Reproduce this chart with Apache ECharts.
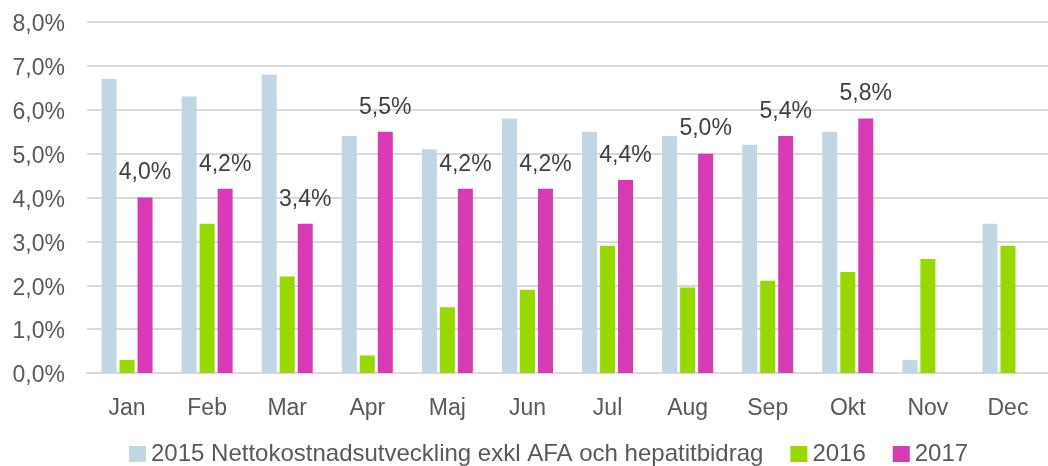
<!DOCTYPE html>
<html>
<head>
<meta charset="utf-8">
<script src="https://cdn.jsdelivr.net/npm/echarts@6/dist/echarts.min.js"></script>
<style>
  html, body { margin: 0; padding: 0; background: #fff; }
  #chart { width: 1048px; height: 466px; }
</style>
</head>
<body>
<div id="chart"></div>
<script>
const months = ['Jan', 'Feb', 'Mar', 'Apr', 'Maj', 'Jun', 'Jul', 'Aug', 'Sep', 'Okt', 'Nov', 'Dec'];
const seriesNames = ['2015 Nettokostnadsutveckling exkl AFA och hepatitbidrag', '2016', '2017'];
const values2015 = [6.7, 6.3, 6.8, 5.4, 5.1, 5.8, 5.5, 5.4, 5.2, 5.5, 0.3, 3.4];
const values2016 = [0.3, 3.4, 2.2, 0.4, 1.5, 1.9, 2.9, 1.95, 2.1, 2.3, 2.6, 2.9];
const values2017 = [4.0, 4.2, 3.4, 5.5, 4.2, 4.2, 4.4, 5.0, 5.4, 5.8, null, null];

const colors = ['#c0d6e2', '#98d700', '#d63ab5'];

function pct(v) {
  return v.toFixed(1).replace('.', ',') + '%';
}

function initChart() {
  const chart = echarts.init(document.getElementById('chart'));
  const font = 'Liberation Sans, Arial, sans-serif';
  chart.setOption({
    animation: false,
    color: colors,
    grid: {
      left: 87,
      top: 22,
      width: 974,
      bottom: 93,
      containLabel: false
    },
    legend: {
      left: 124,
      top: 437,
      itemWidth: 17,
      itemHeight: 16,
      itemGap: 27,
      icon: 'rect',
      textStyle: { color: '#595959', fontSize: 24, fontFamily: font },
      data: seriesNames
    },
    xAxis: {
      type: 'category',
      data: months,
      axisTick: { show: false },
      axisLine: { lineStyle: { color: '#d9d9d9', width: 2 } },
      axisLabel: { color: '#595959', fontSize: 23, fontFamily: font, margin: 24 }
    },
    yAxis: {
      type: 'value',
      min: 0,
      max: 8,
      interval: 1,
      axisLine: { show: false },
      axisTick: { show: false },
      axisLabel: {
        margin: 22,
        formatter: function (v) { return '{v|' + pct(v) + '}'; },
        rich: {
          v: {
            color: '#595959',
            fontSize: 23,
            fontFamily: font,
            padding: [6, 0, 0, 0]
          }
        }
      },
      splitLine: { lineStyle: { color: '#d9d9d9', width: 2 } }
    },
    series: [
      {
        name: seriesNames[0],
        type: 'bar',
        barWidth: 15,
        barGap: '20%',
        data: values2015
      },
      {
        name: seriesNames[1],
        type: 'bar',
        barWidth: 15,
        barGap: '20%',
        data: values2016
      },
      {
        name: seriesNames[2],
        type: 'bar',
        barWidth: 15,
        barGap: '20%',
        data: values2017,
        label: {
          show: true,
          position: 'top',
          distance: 13,
          color: '#404040',
          fontSize: 23,
          fontFamily: font,
          formatter: function (p) { return pct(p.value); }
        }
      }
    ]
  });
}

initChart();
</script>
</body>
</html>
